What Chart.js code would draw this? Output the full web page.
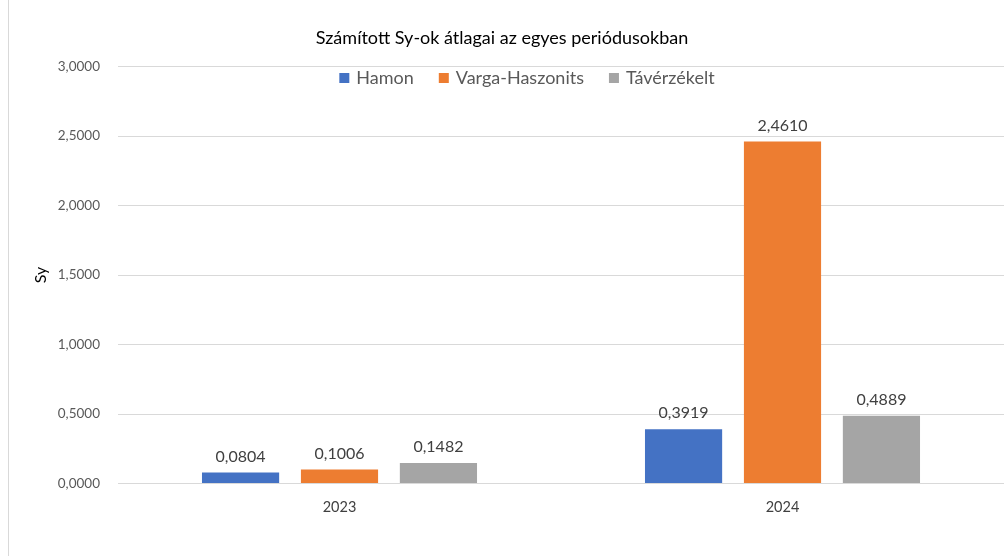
<!DOCTYPE html>
<html>
<head>
<meta charset="utf-8">
<script src="https://cdn.jsdelivr.net/npm/chart.js@4/dist/chart.umd.min.js"></script>
<style>
  html, body { margin: 0; padding: 0; background: #fff; }
  #wrap { width: 1004px; height: 556px; position: relative; }
</style>
</head>
<body>
<div id="wrap"><canvas id="c"></canvas></div>
<script>
// data
var categories = ["2023", "2024"];
var seriesNames = ["Hamon", "Varga-Haszonits", "Távérzékelt"];
var hamon = [0.0804, 0.3919];
var vargaHaszonits = [0.1006, 2.4610];
var taverzekelt = [0.1482, 0.4889];
var colors = ["#4472C4", "#ED7D31", "#A5A5A5"];

var FONT = "Lato, 'Liberation Sans', sans-serif";

function fmt(v, d) {
    return v.toFixed(d).replace(".", ",");
}

// white background + left frame line
var frame = {
    id: "frame",
    beforeDraw: function(chart) {
        var ctx = chart.ctx;
        ctx.save();
        ctx.fillStyle = "#fff";
        ctx.fillRect(0, 0, chart.width, chart.height);
        ctx.strokeStyle = "#d9d9d9";
        ctx.lineWidth = 1;
        ctx.beginPath();
        ctx.moveTo(8.5, 0);
        ctx.lineTo(8.5, chart.height);
        ctx.stroke();
        ctx.restore();
    }
};

// value labels above bars
var valueLabels = {
    id: "valueLabels",
    afterDatasetsDraw: function(chart) {
        var ctx = chart.ctx;
        ctx.save();
        ctx.fillStyle = "#404040";
        ctx.font = "16px " + FONT;
        ctx.textAlign = "center";
        ctx.textBaseline = "middle";
        chart.data.datasets.forEach(function(ds, i) {
            chart.getDatasetMeta(i).data.forEach(function(bar, j) {
                ctx.fillText(fmt(ds.data[j], 4), bar.x, bar.y - 16);
            });
        });
        ctx.restore();
    }
};

// legend inside plot area, like the excel one
var innerLegend = {
    id: "innerLegend",
    afterDraw: function(chart) {
        var ctx = chart.ctx;
        ctx.save();
        ctx.font = "18px " + FONT;
        ctx.textBaseline = "middle";
        var box = 10, gap = 7, spacing = 25;
        var total = 0;
        var widths = chart.data.datasets.map(function(ds) {
            var w = ctx.measureText(ds.label).width;
            total += box + gap + w;
            return w;
        });
        total += spacing * (widths.length - 1);
        var x = 527 - total / 2, y = 78;
        chart.data.datasets.forEach(function(ds, i) {
            ctx.fillStyle = ds.backgroundColor;
            ctx.fillRect(x, y - box / 2, box, box);
            ctx.fillStyle = "#595959";
            ctx.fillText(ds.label, x + box + gap, y);
            x += box + gap + widths[i] + spacing;
        });
        ctx.restore();
    }
};

var ctx = document.getElementById("c").getContext("2d");
var chart = new Chart(ctx, {
    type: "bar",
    data: {
        labels: categories,
        datasets: [{
            label: seriesNames[0],
            data: hamon,
            backgroundColor: colors[0]
        }, {
            label: seriesNames[1],
            data: vargaHaszonits,
            backgroundColor: colors[1]
        }, {
            label: seriesNames[2],
            data: taverzekelt,
            backgroundColor: colors[2]
        }]
    },
    options: {
        responsive: true,
        maintainAspectRatio: false,
        animation: false,
        categoryPercentage: 0.67,
        barPercentage: 0.78,
        layout: {
            padding: { left: 0, right: 0, top: 0, bottom: 25 }
        },
        plugins: {
            legend: { display: false },
            tooltip: { enabled: false },
            title: {
                display: true,
                text: "Számított Sy-ok átlagai az egyes periódusokban",
                color: "#000",
                font: { family: FONT, size: 18, weight: "normal" },
                padding: { top: 27, bottom: 18 }
            }
        },
        scales: {
            x: {
                grid: { display: false, drawTicks: false },
                border: { color: "#d9d9d9" },
                ticks: {
                    color: "#404040",
                    font: { family: FONT, size: 14.5 },
                    padding: 15
                }
            },
            y: {
                min: 0,
                max: 3,
                afterFit: function(scale) {
                    scale.width = 118;
                },
                grid: { color: "#d9d9d9", drawTicks: false },
                border: { display: false },
                ticks: {
                    stepSize: 0.5,
                    color: "#595959",
                    font: { family: FONT, size: 13.5 },
                    padding: 18,
                    callback: function(v) { return fmt(v, 4); }
                },
                title: {
                    display: true,
                    text: "Sy",
                    color: "#000",
                    font: { family: FONT, size: 16 },
                    padding: { top: 31, bottom: 0 }
                }
            }
        }
    },
    plugins: [frame, valueLabels, innerLegend]
});
</script>
</body>
</html>
